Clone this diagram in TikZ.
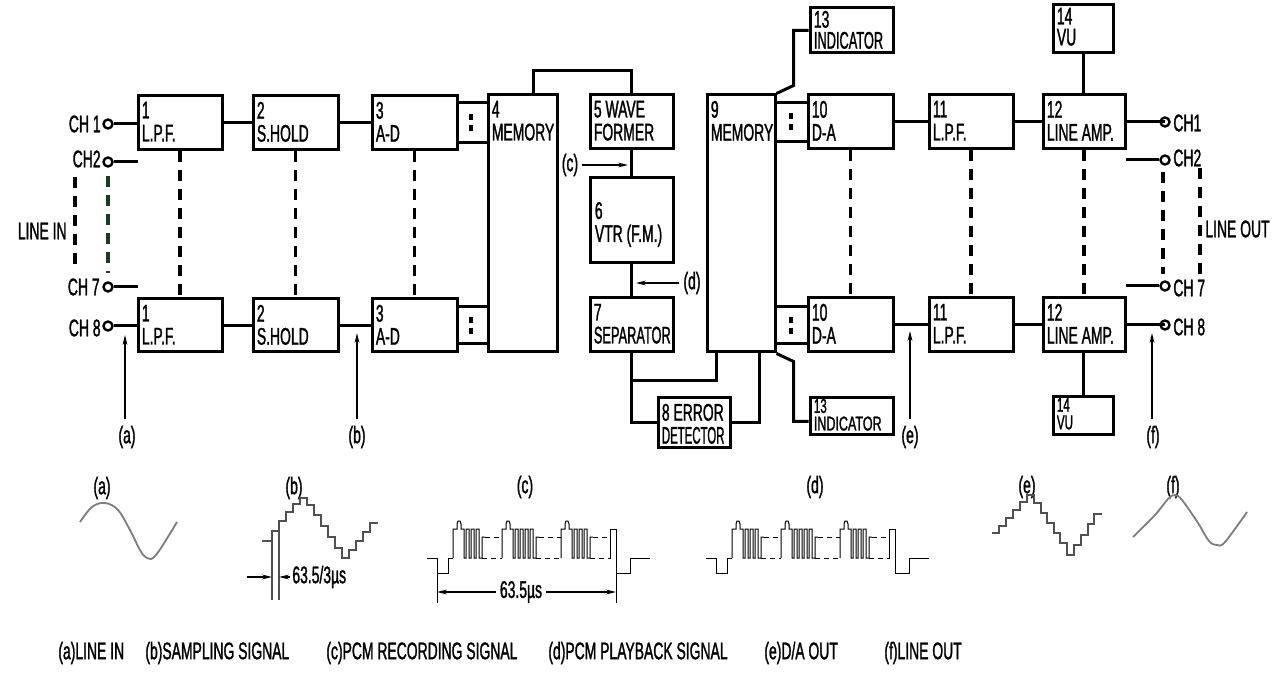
\documentclass[tikz,border=0pt]{standalone}
\usepackage{fontspec}
\setmainfont{Liberation Sans}[FakeStretch=0.58, FakeBold=1.2]
\usetikzlibrary{arrows.meta,fit,calc}
\definecolor{dkgreen}{RGB}{25,60,30}
\definecolor{wgray}{RGB}{125,125,125}
\definecolor{sgray}{RGB}{80,80,80}
\newcommand{\sqz}[2]{\scalebox{#1}[1]{#2}}
\newcommand{\pulsegrp}[2]{%
  \draw[pulse] (#1,558) -- ++(0,-29) -- ++(4,0) -- ++(0,-5) -- ++(1,-3) -- ++(2,0) -- ++(1,3) -- ++(0,5) -- ++(3,0) -- ++(0,29)
  \foreach \k in {1,...,#2}{ -- ++(2,0) -- ++(0,-29) -- ++(3,0) -- ++(0,29)} -- ++(3,0) -- ++(0,-21) -- ++(3,0);}
\newcommand{\pcmtrain}{%
  \draw[pulse] (427,558) -- (437,558) -- (437,573) -- (448,573) -- (448,558) -- (453,558);
  \pulsegrp{453}{3}
  \draw[pdash] (485,537) -- (502,537); \draw[pdash] (482,558) -- (502,558);
  \pulsegrp{502}{4}
  \draw[pdash] (539,537) -- (561,537); \draw[pdash] (536,558) -- (561,558);
  \pulsegrp{561}{3}
  \draw[pdash] (593,537) -- (610,537); \draw[pdash] (590,558) -- (608,558);
  \draw[pulse] (608,558) -- (610,558) -- (610,529) -- (616,529) -- (616,573) -- (630,573) -- (630,558) -- (650,558);}
\begin{document}
\begin{tikzpicture}[x=0.5pt,y=-0.5pt,
  box/.style={draw, line width=1.5pt, inner sep=0pt},
  lbl/.style={anchor=north west, align=left, inner xsep=2.5pt, inner ysep=3.5pt, font=\fontsize{12}{11.5}\selectfont},
  txt/.style={inner sep=0pt, font=\fontsize{12}{11.5}\selectfont},
  wire/.style={line width=1.5pt},
  dsh/.style={line width=1.6pt, dash pattern=on 5.5pt off 4pt},
  ladd/.style={line width=2pt, dash pattern=on 3pt off 2.5pt},
  term/.style={circle, draw, line width=1.2pt, fill=white, minimum size=4.5pt, inner sep=0pt},
  sig/.style={line width=0.6pt, -{Stealth[length=5pt,width=2.4pt]}},
  pulse/.style={line width=0.5pt},
  pdash/.style={line width=0.5pt, dash pattern=on 2.5pt off 2pt},
]
\fill[white] (0,0) rectangle (1274,673);
\useasboundingbox (0,0) rectangle (1274,673);

% ---------- boxes ----------
\node[box, fit={(138,96) (222,150)}] (b1) {};
\node[box, fit={(253,96) (338,150)}] (b2) {};
\node[box, fit={(372,96) (457,150)}] (b3) {};
\node[box, fit={(488,95) (557,352)}] (b4) {};
\node[box, fit={(138,299) (222,352)}] (b1b) {};
\node[box, fit={(253,299) (338,352)}] (b2b) {};
\node[box, fit={(372,299) (457,352)}] (b3b) {};
\node[box, fit={(590,95) (673,149)}] (b5) {};
\node[box, fit={(590,178) (673,263)}] (b6) {};
\node[box, fit={(590,298) (673,352)}] (b7) {};
\node[box, fit={(658,398) (730,448)}] (b8) {};
\node[box, fit={(707,95) (775,352)}] (b9) {};
\node[box, fit={(808,95) (893,149)}] (b10) {};
\node[box, fit={(929,95) (1013,149)}] (b11) {};
\node[box, fit={(1043,95) (1125,149)}] (b12) {};
\node[box, fit={(808,298) (893,352)}] (b10b) {};
\node[box, fit={(929,298) (1013,352)}] (b11b) {};
\node[box, fit={(1043,298) (1125,352)}] (b12b) {};
\node[box, fit={(810,8) (893,53)}] (b13) {};
\node[box, fit={(810,398) (893,435)}] (b13b) {};
\node[box, fit={(1053,5) (1113,53)}] (b14) {};
\node[box, fit={(1053,397) (1113,435)}] (b14b) {};

% ---------- box labels ----------
\node[lbl] (l1) at (b1.north west) {1\\L.P.F.};
\node[lbl] (l2) at (b2.north west) {2\\S.HOLD};
\node[lbl] (l3) at (b3.north west) {3\\A-D};
\node[lbl] (l4) at (b4.north west) {4\\MEMORY};
\node[lbl] (l1b) at (b1b.north west) {1\\L.P.F.};
\node[lbl] (l2b) at (b2b.north west) {2\\S.HOLD};
\node[lbl] (l3b) at (b3b.north west) {3\\A-D};
\node[lbl] (l5) at (b5.north west) {5 WAVE\\FORMER};
\node[txt, anchor=west, align=left] (l6) at ([xshift=3pt,yshift=-2pt]b6.west) {6\\VTR (F.M.)};
\node[lbl] (l7) at (b7.north west) {7\\\sqz{0.92}{SEPARATOR}};
\node[lbl] (l8) at (b8.north west) {8 ERROR\\\sqz{0.82}{DETECTOR}};
\node[lbl] (l9) at (b9.north west) {9\\MEMORY};
\node[lbl] (l10) at (b10.north west) {10\\D-A};
\node[lbl] (l11) at (b11.north west) {11\\L.P.F.};
\node[lbl] (l12) at (b12.north west) {12\\LINE AMP.};
\node[lbl] (l10b) at (b10b.north west) {10\\D-A};
\node[lbl] (l11b) at (b11b.north west) {11\\L.P.F.};
\node[lbl] (l12b) at (b12b.north west) {12\\LINE AMP.};
\node[lbl, inner ysep=2pt, font=\fontsize{12}{10.5}\selectfont] (l13) at (b13.north west) {13\\\sqz{0.92}{INDICATOR}};
\node[lbl, inner ysep=1pt, font=\fontsize{10}{8.8}\selectfont] (l13b) at (b13b.north west) {13\\\sqz{1.08}{INDICATOR}};
\node[lbl, inner ysep=2pt, font=\fontsize{12}{10.5}\selectfont] (l14) at (b14.north west) {14\\VU};
\node[lbl, inner ysep=1pt, font=\fontsize{10}{8.8}\selectfont] (l14b) at (b14b.north west) {14\\VU};

% ---------- input terminals ----------
\node[term] (ti1) at (108,124) {};
\node[term] (ti2) at (108,162) {};
\node[term] (ti7) at (108,287) {};
\node[term] (ti8) at (108,326) {};
\node[txt, anchor=east] (ci1) at (101,124) {CH 1};
\node[txt, anchor=east] (ci2) at (101,159) {CH2};
\node[txt, anchor=east] (ci7) at (100,287) {CH 7};
\node[txt, anchor=east] (ci8) at (101,328) {CH 8};
\node[txt, anchor=east] (linein) at (67,231) {LINE IN};
\coordinate (si2) at (138,162);
\coordinate (si7) at (138,287);
\coordinate (li1) at (75,177);
\coordinate (li2) at (75,267);

\draw[wire] (ti1) -- (b1.west |- ti1);
\draw[wire] (ti2) -- (si2);
\draw[wire] (ti7) -- (si7);
\draw[wire] (ti8) -- (b1b.west |- ti8);
\draw[dsh] (li1) -- (li2);
\draw[dsh, dkgreen] ([yshift=-4pt]ti2.south) -- ([yshift=4pt]ti7.north);

% ---------- input chain ----------
\draw[wire] (b1.east) -- (b2.west);
\draw[wire] (b2.east) -- (b3.west);
\draw[wire] (b1b.east) -- (b2b.west);
\draw[wire] (b2b.east) -- (b3b.west);
\draw[dsh] (b1.south) -- (b1b.north);
\draw[dsh] (b2.south) -- (b2b.north);
\draw[dsh] (b3.south) -- (b3b.north);

\draw[wire] (b3.east |- 0,103) -- (b4.west |- 0,103);
\draw[wire] (b3.east |- 0,143) -- (b4.west |- 0,143);
\draw[wire] (b3b.east |- 0,307) -- (b4.west |- 0,307);
\draw[wire] (b3b.east |- 0,344) -- (b4.west |- 0,344);
\coordinate (k1a) at (471,114); \coordinate (k1b) at (471,132);
\coordinate (k2a) at (471,317); \coordinate (k2b) at (471,335);
\draw[ladd] (k1a) -- (k1b);
\draw[ladd] (k2a) -- (k2b);

% ---------- recorder ----------
\draw[wire] ([xshift=5.5pt]b4.north) -- ++(0,-23) -| (b5.north);
\draw[wire] (b5.south) -- (b6.north);
\draw[wire] (b6.south) -- (b7.north);
\draw[wire] (b7.south) |- (b8.west);
\draw[wire] (b7.south |- 0,381) -| ($(b9.south west)+(11,0)$);
\draw[wire] (b8.east) -| ($(b9.south east)+(-17,0)$);

\node[txt] (lc) at (570,165) {(c)};
\coordinate (pc) at (628,165);
\draw[sig] (lc.east) ++(3,0) -- (pc);
\node[txt] (ld) at (692,283) {(d)};
\coordinate (pd) at (636,283);
\draw[sig] ([xshift=-2pt]ld.west) -- (pd);

% ---------- indicators ----------
\draw[wire] (b9.north east) -- ++(17,-8) |- (b13.west);
\draw[wire] (b9.south east) -- ++(17,8) |- ($(b13b.west)+(0,5)$);

% ---------- output chain ----------
\draw[wire] (b9.east |- 0,103) -- (b10.west |- 0,103);
\draw[wire] (b9.east |- 0,142) -- (b10.west |- 0,142);
\draw[wire] (b9.east |- 0,307) -- (b10b.west |- 0,307);
\draw[wire] (b9.east |- 0,344) -- (b10b.west |- 0,344);
\coordinate (k3a) at (791,113); \coordinate (k3b) at (791,131);
\coordinate (k4a) at (791,317); \coordinate (k4b) at (791,335);
\draw[ladd] (k3a) -- (k3b);
\draw[ladd] (k4a) -- (k4b);

\draw[wire] (b10.east) -- (b11.west);
\draw[wire] (b11.east) -- (b12.west);
\draw[wire] (b10b.east) -- (b11b.west);
\draw[wire] (b11b.east) -- (b12b.west);
\draw[dsh] (b10.south) -- (b10b.north);
\draw[dsh] (b11.south) -- (b11b.north);
\draw[dsh] (b12.south) -- (b12b.north);
\draw[wire] (b14.south) -- (b14.south |- b12.north);
\draw[wire] (b14b.north |- b12b.south) -- (b14b.north);

% ---------- output terminals ----------
\node[term] (to1) at (1165,122) {};
\node[term] (to2) at (1165,160) {};
\node[term] (to7) at (1165,286) {};
\node[term] (to8) at (1165,325) {};
\node[txt, anchor=west] (co1) at (1173,123) {CH1};
\node[txt, anchor=west] (co2) at (1173,158) {CH2};
\node[txt, anchor=west] (co7) at (1173,288) {CH 7};
\node[txt, anchor=west] (co8) at (1173,327) {CH 8};
\node[txt, anchor=west] (lineout) at (1205,229) {LINE OUT};
\coordinate (so2) at (1126,160);
\coordinate (so7) at (1126,286);
\coordinate (lo1) at (1200,168);
\coordinate (lo2) at (1200,282);
\draw[wire] (b12.east) -- (to1 |- b12.east);
\draw[wire] (so2) -- (to2);
\draw[wire] (so7) -- (to7);
\draw[wire] (b12b.east) -- (to8 |- b12b.east);
\draw[dsh] ([xshift=-1pt,yshift=-3pt]to2.south) -- ([xshift=-1pt,yshift=3pt]to7.north);
\draw[dsh] (lo1) -- (lo2);

% ---------- measuring points ----------
\node[txt] (ma) at (127,437) {(a)};
\node[txt] (mb) at (357,437) {(b)};
\node[txt] (me) at (910,437) {(e)};
\node[txt] (mf) at (1153,437) {(f)};
\coordinate (pa) at (125,335);
\coordinate (pb) at (357,333);
\coordinate (pe) at (910,331);
\coordinate (pf) at (1152,333);
\draw[sig] ([yshift=3pt]ma.north -| pa) -- (pa);
\draw[sig] ([yshift=3pt]mb.north) -- (pb);
\draw[sig] ([yshift=3pt]me.north) -- (pe);
\draw[sig] ([yshift=3pt]mf.north -| pf) -- (pf);

% ---------- waveforms ----------
\node[txt] (wa) at (102,488) {(a)};
\node[txt] (wb) at (294,488) {(b)};
\node[txt] (wc) at (525,487) {(c)};
\node[txt] (wd) at (815,487) {(d)};
\node[txt] (we) at (1027,487) {(e)};
\node[txt] (wf) at (1173,487) {(f)};

\draw[wgray, line width=0.9pt] plot[smooth, tension=0.6] coordinates
  {(80,522) (92,507) (105,503) (118,510) (130,530) (140,550) (147,558) (156,555) (177,522)};
\draw[sgray, line width=0.8pt] (262,541) -| (272,531) -| (279,521) -| (286,512) -| (293,504) -| (300,498)
  -| (307,505) -| (314,515) -| (321,526) -| (328,537) -| (335,548) -| (342,558)
  -| (349,550) -| (356,541) -| (363,532) -| (370,523) -- (378,523);
\draw[sgray, line width=0.8pt] (272,541) -- (272,600);
\draw[sgray, line width=0.8pt] (279,531) -- (279,600);
\node[txt, anchor=west] (tb) at (292,577) {63.5/3µs};
\coordinate (mb0) at (247,577);
\draw[sig] (mb0) -- (272,577);
\draw[sig] ([xshift=-1pt]tb.west) -- (279,577);

\pcmtrain
\draw[pulse] (437,573) -- (437,603);
\draw[pulse] (616,573) -- (616,603);
\node[txt] (tc) at (521,592) {63.5µs};
\draw[sig] ([xshift=-2pt]tc.west) -- (437,592);
\draw[sig] ([xshift=2pt]tc.east) -- (616,592);

\begin{scope}[shift={(279,0)}]
\pcmtrain
\end{scope}

\draw[sgray, line width=0.8pt] (992,533) -| (999,526) -| (1006,518) -| (1013,510) -| (1020,502) -| (1027,495)
  -| (1034,503) -| (1041,513) -| (1047,523) -| (1054,533) -| (1060,543) -| (1067,555)
  -| (1074,545) -| (1081,535) -| (1088,524) -| (1094,514) -- (1102,514);
\draw[wgray, line width=0.9pt] plot[smooth, tension=0.6] coordinates
  {(1133,537) (1155,515) (1168,499) (1175,495) (1182,500) (1198,523) (1209,541) (1217,545) (1225,542) (1247,512)};

% ---------- captions ----------
\node[txt, anchor=west] (ca) at (58,653) {(a)LINE IN};
\node[txt, anchor=west] (cb) at (145,653) {(b)SAMPLING SIGNAL};
\node[txt, anchor=west] (cc) at (326,653) {(c)PCM RECORDING SIGNAL};
\node[txt, anchor=west] (cd) at (548,653) {(d)PCM PLAYBACK SIGNAL};
\node[txt, anchor=west] (ce) at (764,653) {(e)D/A OUT};
\node[txt, anchor=west] (cf) at (884,653) {(f)LINE OUT};
\end{tikzpicture}
\end{document}
